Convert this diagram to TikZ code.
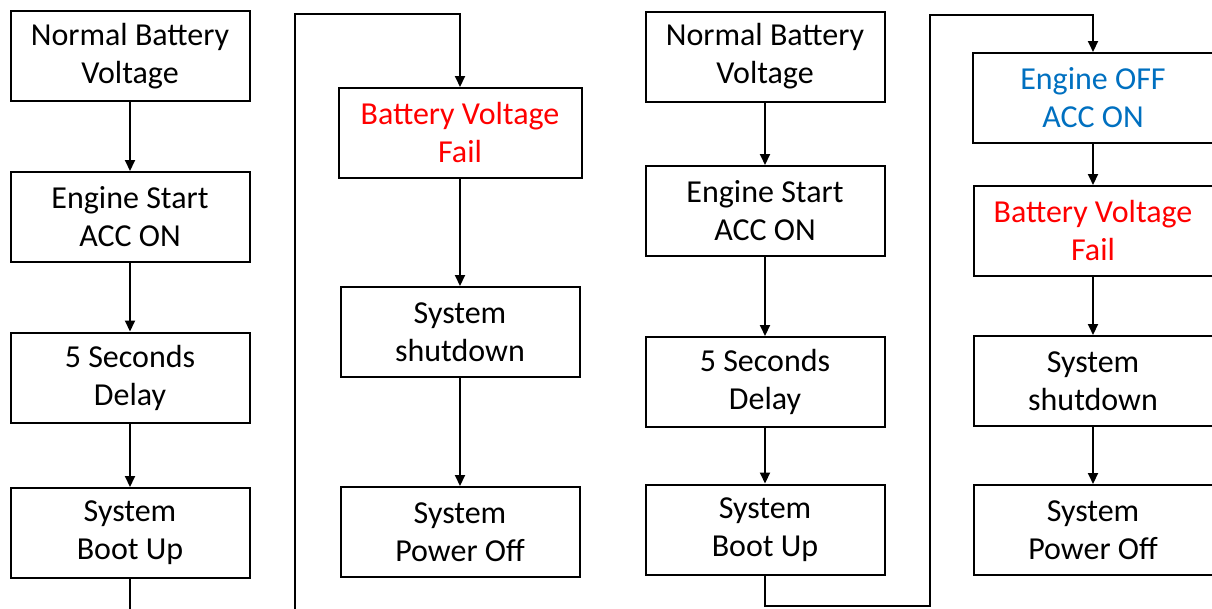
\documentclass[tikz,border=0pt]{standalone}
\usepackage{fontspec}
\setmainfont{Carlito}
\usetikzlibrary{arrows.meta}
\definecolor{failred}{RGB}{255,0,0}
\definecolor{offblue}{RGB}{0,112,192}
\begin{document}
\begin{tikzpicture}[x=1pt,y=-1pt,
  box/.style={draw=black, line width=2pt, minimum width=239pt, minimum height=90pt,
    align=center, inner sep=0pt, font=\fontsize{32}{38}\selectfont},
  arr/.style={line width=2pt, -{Triangle[length=11pt,width=10pt]}},
  ln/.style={line width=2pt}]
\useasboundingbox (0,0) rectangle (1212,608);
% column 1
\node[box] (a1) at (130,56) {Normal Battery\\Voltage};
\node[box] (a2) at (130,217) {Engine Start\\ACC ON};
\node[box] (a3) at (130,377.5) {5 Seconds\\Delay};
\node[box] (a4) at (130,533) {System\\Boot Up};
% column 2
\node[box, minimum width=243pt, text=failred] (b1) at (460,133) {Battery Voltage\\Fail};
\node[box] (b2) at (460,332) {System\\shutdown};
\node[box] (b3) at (460,532) {System\\Power Off};
% column 3
\node[box] (c1) at (765,56.5) {Normal Battery\\Voltage};
\node[box] (c2) at (765,211) {Engine Start\\ACC ON};
\node[box] (c3) at (765,382) {5 Seconds\\Delay};
\node[box] (c4) at (765,529.5) {System\\Boot Up};
% column 4
\node[box, minimum width=241pt, text=offblue] (d1) at (1093,98) {Engine OFF\\ACC ON};
\node[box, text=failred] (d2) at (1093,231) {Battery Voltage\\Fail};
\node[box] (d3) at (1093,381) {System\\shutdown};
\node[box] (d4) at (1093,530) {System\\Power Off};
% arrows
\draw[arr] (a1) -- (a2);
\draw[arr] (a2) -- (a3);
\draw[arr] (a3) -- (a4);
\draw[arr] (b1) -- (b2);
\draw[arr] (b2) -- (b3);
\draw[arr] (c1) -- (c2);
\draw[arr] (c2) -- (c3);
\draw[arr] (c3) -- (c4);
\draw[arr] (d1) -- (d2);
\draw[arr] (d2) -- (d3);
\draw[arr] (d3) -- (d4);
% long connectors
\coordinate (lb) at (295,630);
\coordinate (lt) at (295,14);
\draw[arr] (a4.south) |- (lb) -- (lt) -| (b1.north);
\coordinate (rb) at (930,606);
\coordinate (rt) at (930,15);
\draw[arr] (c4.south) |- (rb) -- (rt) -| (d1.north);
\end{tikzpicture}
\end{document}
